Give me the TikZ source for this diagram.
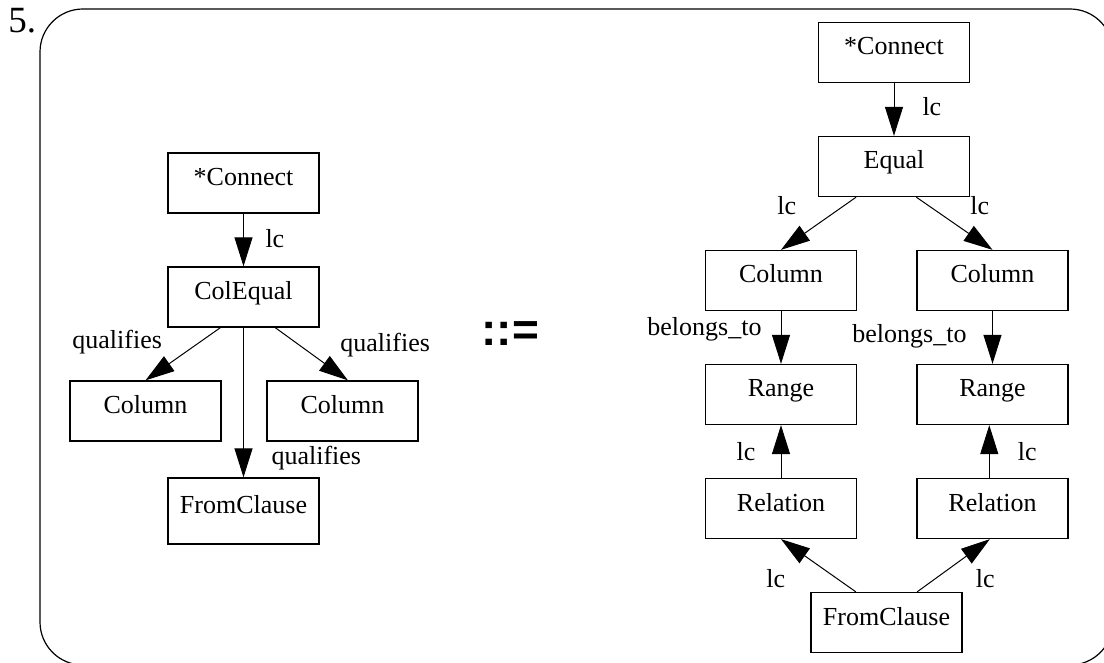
\documentclass[tikz,border=0pt]{standalone}
\usepackage{fontspec}
\setmainfont{Liberation Serif}
\newfontfamily\opfont{Liberation Sans}
\usepackage{tikz}
\usetikzlibrary{arrows.meta,positioning}
\tikzset{
    box/.style={
        rectangle,
        draw=black,
        line width=0.65pt,
        minimum width=75.5pt,
        minimum height=30pt,
        inner sep=0pt,
        text height=9pt,
        text depth=6.5pt,
    },
    lbl/.style={
        inner sep=0pt,
    },
    every edge/.style={
        draw,
        ->,>={Triangle[length=14.5pt,width=9pt]},
        line width=0.5pt,
    },
    node distance=57pt,
  }

\begin{document}
\begin{tikzpicture}[x=0.5pt,y=-0.5pt,font=\fontsize{13pt}{15pt}\selectfont]
  \useasboundingbox (0,0) rectangle (1104,663);
  \draw [line width=0.6pt, rounded corners=21.5pt] (40,9) rectangle (1113,665);
  \node [anchor=base west, inner sep=0pt, font=\fontsize{18.5pt}{20pt}\selectfont] (num) at (8,33) {5.};
  \node [anchor=base west, inner sep=0pt, font=\opfont\bfseries\fontsize{23pt}{25pt}\selectfont] (defsym) at (481,346) {::=};

  % left hand side
  \node [box] (lconn) at (243.5,183) {*Connect};
  \node [box, below of=lconn] (lcoleq) {ColEqual};
  \node [box, below of=lcoleq, xshift=-49pt] (lcolA) {Column};
  \node [box, below of=lcoleq, xshift=49.5pt] (lcolB) {Column};
  \node [box, node distance=107pt, below of=lcoleq, minimum height=33pt] (lfrom) {FromClause};

  \draw (lconn) edge node[lbl, pos=0.47, right=10.75pt] {lc} (lcoleq);
  \draw (lcoleq.233) edge node[lbl, pos=0.28, left=18.5pt] {qualifies} (lcolA.north);
  \draw (lcoleq.316) edge node[lbl, pos=0.34, right=20pt] {qualifies} (lcolB.80);
  \draw (lcoleq) edge node[lbl, pos=0.87, right=13.75pt] {qualifies} (lfrom);

  % right hand side
  \node [box] (rconn) at (894,52.5) {*Connect};
  \node [box, below of=rconn] (req) {Equal};
  \node [box, below of=req, xshift=-56.5pt] (rcolA) {Column};
  \node [box, below of=req, xshift=49.25pt] (rcolB) {Column};
  \node [box, below of=rcolA] (rrangeA) {Range};
  \node [box, below of=rcolB] (rrangeB) {Range};
  \node [box, below of=rrangeA] (rrelA) {Relation};
  \node [box, below of=rrangeB] (rrelB) {Relation};
  \node [box, below of=rrelA, xshift=52.75pt] (rfrom) {FromClause};

  \draw (rconn) edge node[lbl, pos=0.44, right=14pt] {lc} (req);
  \draw (req.219) edge node[lbl, pos=0.16, left=23.75pt] {lc} (rcolA.north);
  \draw (req.306) edge node[lbl, pos=0.16, right=20.75pt] {lc} (rcolB.north);
  \draw (rcolA) edge node[lbl, pos=0.34, left=9.5pt] {belongs\_to} (rrangeA);
  \draw (rcolB) edge node[lbl, pos=0.47, left=12.75pt] {belongs\_to} (rrangeB);
  \draw (rrelA) edge node[lbl, pos=0.5, left=12.5pt] {lc} (rrangeA);
  \draw (rrelB.96) edge node[lbl, pos=0.5, right=14pt] {lc} (rrangeB.264);
  \draw (rfrom.135) edge node[lbl, pos=0.25, left=25.7pt] {lc} (rrelA.south);
  \draw (rfrom.45) edge node[lbl, pos=0.25, right=20pt] {lc} (rrelB.265);
\end{tikzpicture}
\end{document}
